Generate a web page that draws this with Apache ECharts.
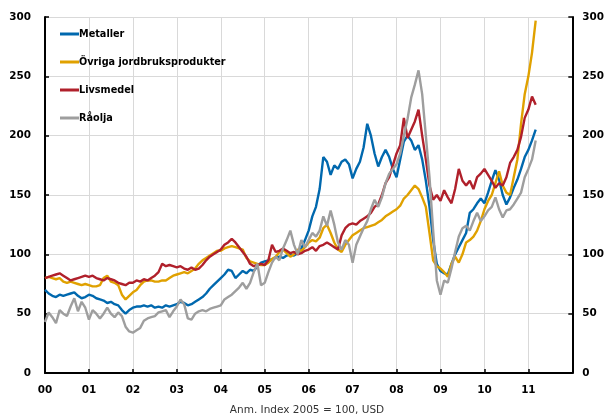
<!DOCTYPE html>
<html><head><meta charset="utf-8">
<script src="https://cdn.jsdelivr.net/npm/echarts@6/dist/echarts.min.js"></script>
<style>html,body{margin:0;padding:0;background:#fff}#c{width:607px;height:417px}</style>
</head><body><div id="c"></div>
<script>
// Monthly observations, Jan 2000 .. Mar 2011 (index 2005 = 100, USD)
const startYear = 2000;
const seriesNames = ['Metaller', 'Övriga jordbruksprodukter', 'Livsmedel', 'Råolja'];
const seriesColors = ['#0068AE', '#E0A100', '#B0202B', '#9E9E9E'];
const xTickLabels = ['00','01','02','03','04','05','06','07','08','09','10','11',''];
const note = 'Anm. Index 2005 = 100, USD';

const metaller = [
70,67,65,64,66,65,66,67,68,65,63,64,
66,65,63,62,61,59,60,58,57,53,50,53,
55,56,56,57,56,57,55,56,55,57,56,57,
58,60,59,57,58,60,62,64,67,71,74,77,
80,83,87,86,80,83,86,84,87,86,90,93,
94,95,96,97,98,97,99,100,99,101,105,112,
120,132,140,155,182,178,167,175,172,178,180,176,
164,172,178,190,210,200,185,174,182,188,182,172,
165,180,195,200,196,188,192,180,162,140,112,92,
86,84,83,92,100,106,112,118,135,138,143,147,
143,152,162,171,163,150,142,148,156,163,172,182,
188,196,205
];
const ovriga = [
80,81,80,79,80,77,76,77,76,75,74,75,
74,73,73,74,80,82,77,76,74,66,62,65,
68,70,74,77,78,78,77,77,78,78,80,82,
83,84,85,84,86,88,92,95,97,99,101,103,
103,105,106,107,106,105,104,97,94,93,92,91,
91,93,96,98,102,104,101,98,100,104,103,106,
110,112,111,114,122,125,118,110,104,102,108,112,
116,118,120,122,123,124,125,127,129,132,134,136,
138,141,147,150,154,158,155,148,140,118,95,90,
88,85,81,92,98,93,100,110,112,115,120,128,
138,145,150,160,170,158,152,150,165,180,210,235,
250,270,297
];
const livsmedel = [
80,81,82,83,84,82,80,78,79,80,81,82,
81,82,80,79,78,80,79,78,76,75,74,76,
76,78,77,79,78,80,82,85,92,90,91,90,
89,90,88,87,89,87,88,91,95,98,100,102,
104,108,110,113,110,106,102,98,92,90,91,92,
91,95,108,102,103,105,103,101,102,100,101,103,
104,106,103,107,108,110,108,106,104,116,122,125,
126,125,128,130,132,135,140,142,150,160,165,175,
185,192,215,198,205,212,222,200,180,158,146,150,
145,154,148,143,155,172,162,158,162,155,165,168,
172,167,162,156,160,158,165,177,182,188,199,215,
222,233,226
];
const raolja = [
43,51,47,42,53,50,48,56,63,52,60,55,
45,53,50,46,50,55,50,47,51,48,39,35,
34,36,38,44,46,47,48,51,52,53,47,52,
56,62,58,46,45,50,52,53,52,54,55,56,
57,62,64,66,69,72,76,71,76,85,92,74,
76,85,93,98,95,105,112,120,108,100,112,106,
112,118,115,120,132,124,137,125,110,104,112,108,
93,108,115,122,128,138,146,140,148,160,168,172,
176,185,200,214,232,243,255,235,200,165,120,78,
66,78,76,88,102,115,122,124,120,128,135,128,
132,137,140,148,138,131,137,138,142,147,152,165,
172,180,196
];

const allSeries = [metaller, ovriga, livsmedel, raolja];
const pairs = arr => arr.map((v, i) => [startYear + i / 12, v]);

const chart = echarts.init(document.getElementById('c'), null, {renderer: 'canvas'});
const boldFont = {fontFamily: 'DejaVu Sans', fontWeight: 'bold', color: '#000', fontSize: 10.4};
const yAxisCommon = {
  type: 'value', min: 0, max: 300, interval: 50,
  axisLine: {show: true, lineStyle: {color: '#000', width: 2}},
  axisTick: {show: true, inside: true, length: 4, lineStyle: {color: '#000', width: 1.5}},
  splitLine: {show: true, lineStyle: {color: '#d9d9d9', width: 1}},
  axisLabel: Object.assign({margin: 14}, boldFont)
};
chart.setOption({
  animation: false,
  backgroundColor: '#fff',
  grid: {left: 45, right: 34, top: 17, bottom: 44},
  legend: {
    orient: 'vertical', left: 55, top: 23, itemGap: 16,
    itemWidth: 19, itemHeight: 3, icon: 'rect',
    textStyle: {fontFamily: 'DejaVu Sans', fontWeight: 'bold', fontSize: 9.7, color: '#000', lineHeight: 12, padding: [0, 0, 0, -5]},
    data: seriesNames
  },
  xAxis: {
    type: 'value', min: 2000, max: 2012, interval: 1,
    axisLine: {show: true, onZero: false, lineStyle: {color: '#000', width: 2}},
    axisTick: {show: true, inside: true, length: 4, lineStyle: {color: '#000', width: 1.5}},
    splitLine: {show: true, lineStyle: {color: '#d9d9d9', width: 1}},
    axisLabel: Object.assign({margin: 12, formatter: v => xTickLabels[Math.round(v - startYear)] || ''}, boldFont)
  },
  yAxis: [
    Object.assign({position: 'left'}, yAxisCommon),
    Object.assign({position: 'right'}, yAxisCommon, {axisLabel: Object.assign({margin: 10}, boldFont), splitLine: {show: false}})
  ],
  graphic: [{
    type: 'text', x: 307, y: 410,
    style: {text: note, align: 'center', verticalAlign: 'middle', fontFamily: 'DejaVu Sans', fontSize: 10.5, fill: '#333'}
  }],
  series: allSeries.map((arr, k) => ({
    name: seriesNames[k], type: 'line', data: pairs(arr), symbol: 'none',
    color: seriesColors[k],
    lineStyle: {color: seriesColors[k], width: 2.4},
    itemStyle: {color: seriesColors[k]},
    z: 2 + k
  }))
});
</script></body></html>
